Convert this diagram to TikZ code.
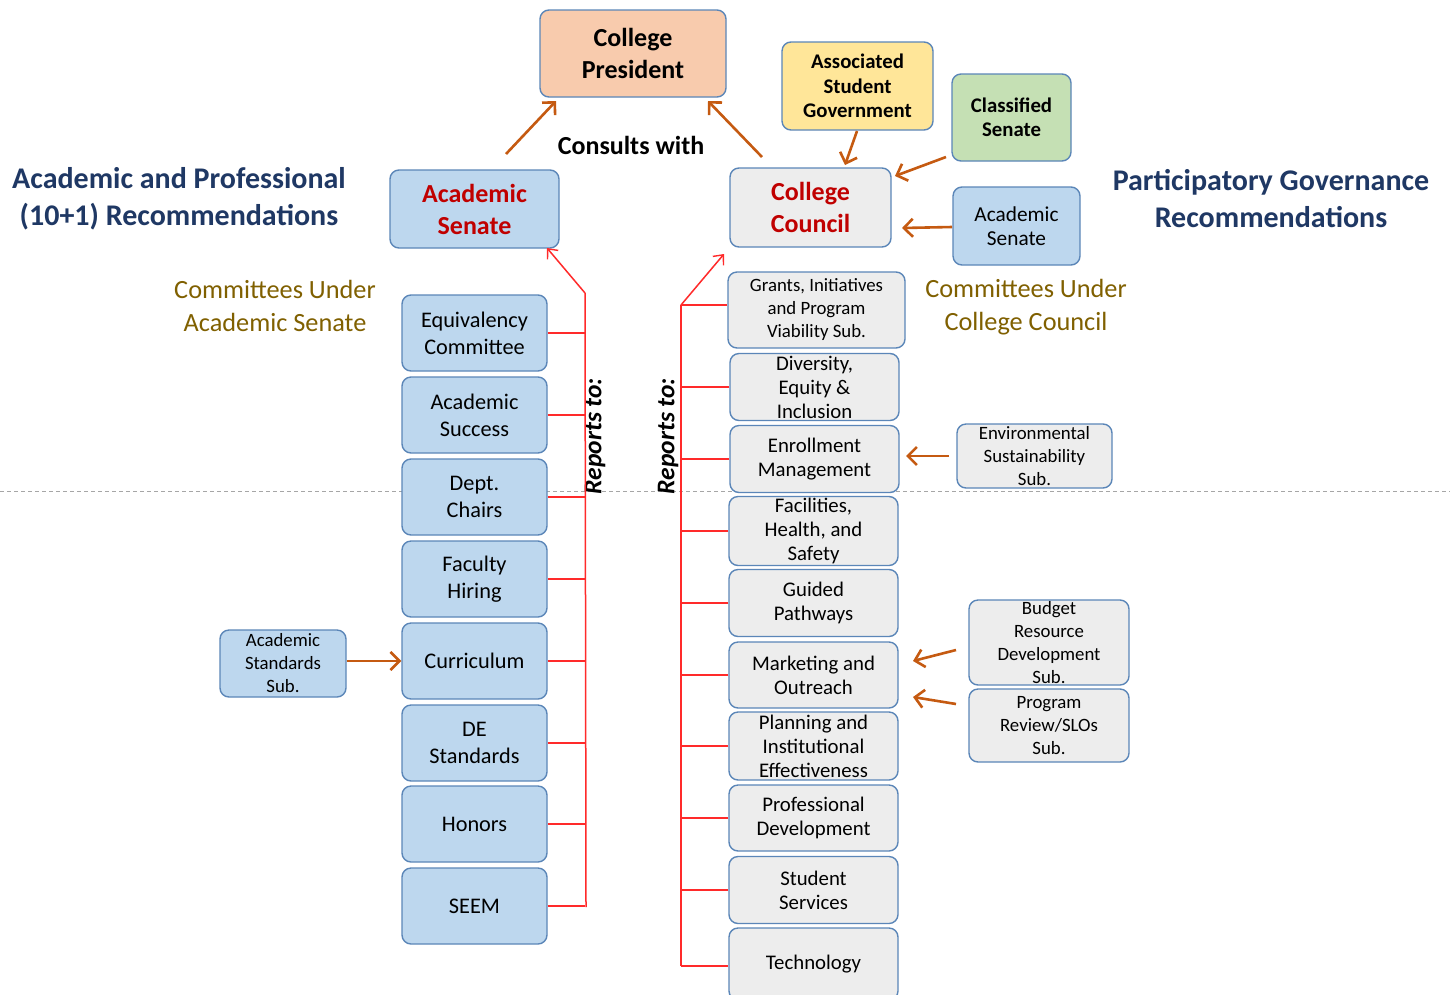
\documentclass[tikz,border=0pt]{standalone}
\usepackage{fontspec}
\setmainfont{Carlito}
\usetikzlibrary{arrows.meta}
\definecolor{bordercol}{HTML}{5B86B8}
\definecolor{boxblue}{HTML}{BDD7EE}
\definecolor{boxgray}{HTML}{EDEDED}
\definecolor{peach}{HTML}{F8CBAD}
\definecolor{yellowbox}{HTML}{FFE699}
\definecolor{greenbox}{HTML}{C5E0B4}
\definecolor{navytext}{HTML}{1F3864}
\definecolor{olivetext}{HTML}{806000}
\definecolor{redtext}{HTML}{C00000}
\definecolor{orangearr}{HTML}{C55A11}
\definecolor{redline}{HTML}{FF2A2A}
\tikzset{
  box/.style={draw=bordercol, line width=1.4pt, rounded corners=9pt, align=center, inner sep=0pt},
  bluebox/.style={box, fill=boxblue},
  graybox/.style={box, fill=boxgray},
  bigf/.style={font=\fontsize{26}{32}\selectfont\bfseries},
  midbf/.style={font=\fontsize{20.8}{24.5}\selectfont\bfseries},
  lcomm/.style={bluebox, minimum width=145pt, minimum height=76pt, font=\fontsize{22.3}{27}\selectfont},
  rcomm/.style={graybox, minimum width=169pt, minimum height=67pt, font=\fontsize{20.8}{24}\selectfont},
  smallf/.style={font=\fontsize{18.8}{23}\selectfont},
  oarrow/.style={draw=orangearr, line width=2.6pt, -{Straight Barb[length=9pt,width=18pt,line width=2.6pt]}},
  redl/.style={draw=redline, line width=1.5pt},
  redarrow/.style={redl, -{Straight Barb[length=8pt,width=14pt,line width=1.4pt]}},
  title/.style={text=navytext, align=center, font=\fontsize{30}{37}\selectfont\bfseries},
  olive/.style={text=olivetext, align=center, font=\fontsize{26.3}{33}\selectfont},
  reports/.style={rotate=90, font=\fontsize{25.5}{28}\selectfont\bfseries\itshape},
}
\begin{document}
\begin{tikzpicture}[x=1pt,y=-1pt]
\useasboundingbox (0,0) rectangle (1450,994);
\fill[white] (0,0) rectangle (1450,994);
% dashed separator
\draw[gray!70, line width=1pt, dash pattern=on 4pt off 3pt] (0,491) -- (1450,491);

% top nodes
\node[box, fill=peach, minimum width=186pt, minimum height=87pt, bigf] (pres) at (633,53.5) {College\\President};
\node[bluebox, minimum width=169pt, minimum height=78pt, bigf, text=redtext] (asen) at (474.5,209) {Academic\\Senate};
\node[graybox, minimum width=161pt, minimum height=79pt, bigf, text=redtext] (cc) at (810.5,207.5) {College\\Council};
\node[box, fill=yellowbox, minimum width=151pt, minimum height=88pt, midbf] (asg) at (857.5,86) {Associated\\Student\\Government};
\node[box, fill=greenbox, minimum width=119pt, minimum height=87pt, midbf] (cls) at (1011.5,117.5) {Classified\\Senate};
\node[bluebox, minimum width=127pt, minimum height=78pt, font=\fontsize{21.3}{24}\selectfont] (asr) at (1016.5,226) {Academic\\Senate};

% labels
\node[title] (t1) at (179,199) {Academic and Professional\\(10+1) Recommendations};
\node[title] (t2) at (1271,199) {Participatory Governance\\Recommendations};
\node[olive] (t3) at (275,305.5) {Committees Under\\Academic Senate};
\node[olive] (t4) at (1026,307) {Committees Under\\College Council};
\node[font=\fontsize{26}{30}\selectfont\bfseries] (cw) at (631,145) {Consults with};
\node[reports] (rt1) at (595,436) {Reports to:};
\node[reports] (rt2) at (668,436) {Reports to:};

% left committees
\node[lcomm] (eq) at (474.5,333) {Equivalency\\Committee};
\node[lcomm] (as) at (474.5,415) {Academic\\Success};
\node[lcomm] (dc) at (474.5,497) {Dept.\\Chairs};
\node[lcomm] (fh) at (474.5,579) {Faculty\\Hiring};
\node[lcomm] (cu) at (474.5,661) {Curriculum};
\node[lcomm] (de) at (474.5,743) {DE\\Standards};
\node[lcomm] (ho) at (474.5,824) {Honors};
\node[lcomm] (se) at (474.5,906) {SEEM};
\node[bluebox, minimum width=126pt, minimum height=67pt, smallf] (ast) at (283,663.5) {Academic\\Standards\\Sub.};

% right committees
\node[graybox, minimum width=177pt, minimum height=76pt, smallf] (gr) at (816.5,310) {Grants, Initiatives\\and Program\\Viability Sub.};
\node[rcomm] (di) at (814.5,387) {Diversity,\\Equity \&\\Inclusion};
\node[rcomm] (en) at (814.5,459) {Enrollment\\Management};
\node[rcomm, minimum height=69pt] (fa) at (813.5,531) {Facilities,\\Health, and\\Safety};
\node[rcomm] (gp) at (813.5,603) {Guided\\Pathways};
\node[rcomm, minimum height=66pt] (mo) at (813.5,675) {Marketing and\\Outreach};
\node[rcomm, minimum height=68pt] (pi) at (813.5,746) {Planning and\\Institutional\\Effectiveness};
\node[rcomm, minimum height=66pt] (pd) at (813.5,818) {Professional\\Development};
\node[rcomm] (ss) at (813.5,890) {Student\\Services};
\node[rcomm, minimum height=72pt] (te) at (813.5,964) {Technology};

\node[graybox, minimum width=155pt, minimum height=64pt, smallf] (env) at (1034.5,456) {Environmental\\Sustainability\\Sub.};
\node[graybox, minimum width=160pt, minimum height=85pt, smallf] (bud) at (1049,642.5) {Budget\\Resource\\Development\\Sub.};
\node[graybox, minimum width=160pt, minimum height=73pt, smallf] (prs) at (1049,725.5) {Program\\Review/SLOs\\Sub.};

% orange arrows
\coordinate (a1s) at (506,154); \coordinate (a1e) at (556,101);
\coordinate (a2s) at (762,157); \coordinate (a2e) at (708,101);
\coordinate (a3s) at (857,131); \coordinate (a3e) at (845,165);
\coordinate (a4s) at (946,157); \coordinate (a4e) at (895,176);
\coordinate (a5s) at (952,227); \coordinate (a5e) at (902,228);
\draw[oarrow] (a1s) -- (a1e);
\draw[oarrow] (a2s) -- (a2e);
\draw[oarrow] (a3s) -- (a3e);
\draw[oarrow] (a4s) -- (a4e);
\draw[oarrow] (a5s) -- (a5e);
\draw[oarrow] (ast.east |- cu.west) -- (cu.west);
\coordinate (a6s) at (949,456); \coordinate (a6e) at (906,456);
\draw[oarrow] (a6s) -- (a6e);
\coordinate (a7s) at (956,650); \coordinate (a7e) at (913,661);
\coordinate (a8s) at (956,704); \coordinate (a8e) at (913,697);
\draw[oarrow] (a7s) -- (a7e);
\draw[oarrow] (a8s) -- (a8e);

% left red spine
\coordinate (ls1) at (585,293);
\coordinate (ls2) at (586,907);
\coordinate (lsa) at (547,248);
\draw[redl] (ls2) -- (ls1);
\draw[redarrow] (ls1) -- (lsa);
\foreach \n in {eq,as,dc,fh,cu,de,ho,se} \draw[redl] (\n.east) -- (\n.east -| ls1);

% right red spine
\coordinate (rs1) at (681,305);
\coordinate (rs2) at (681,966);
\coordinate (rsa) at (724,254);
\draw[redl] (rs2) -- (rs1);
\draw[redarrow] (rs1) -- (rsa);
\draw[redl] (rs1) -- (rs1 -| gr.west);
\foreach \n in {di,en,fa,gp,mo,pi,pd,ss} \draw[redl] (\n.west) -- (\n.west -| rs1);
\draw[redl] (rs2) -- (rs2 -| te.west);
\end{tikzpicture}
\end{document}
